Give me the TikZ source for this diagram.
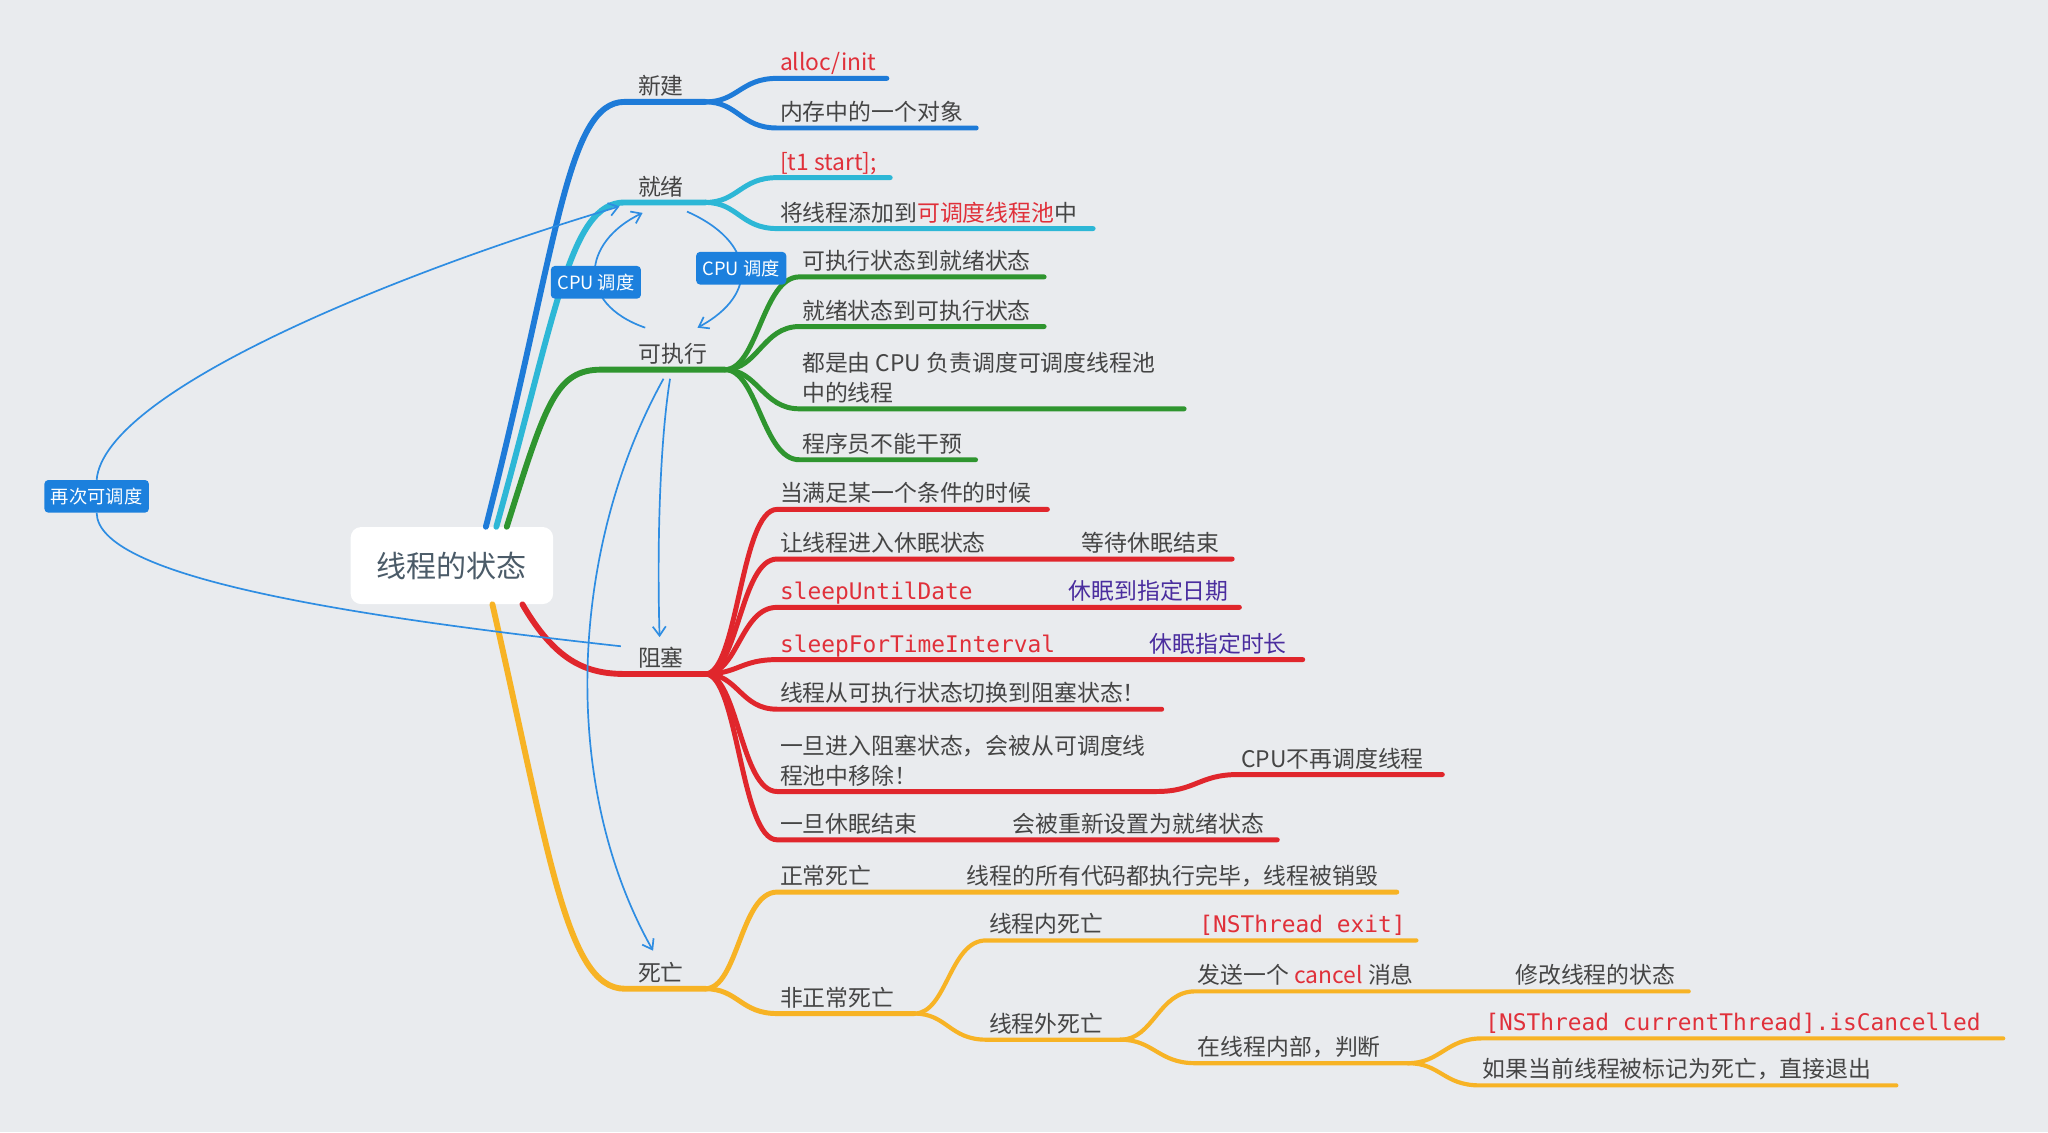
\documentclass[tikz,border=0pt]{standalone}
\usepackage{fontspec}
\setmainfont{Noto Sans CJK SC}
\newfontfamily\codefont{DejaVu Sans Mono}
\usetikzlibrary{arrows.meta,calc}

\definecolor{bgcol}{HTML}{E9EBEE}
\definecolor{txtgray}{HTML}{454545}
\definecolor{rootgray}{HTML}{4B5B68}
\definecolor{cblue}{HTML}{1E7BD8}
\definecolor{ccyan}{HTML}{2DB7D6}
\definecolor{cgreen}{HTML}{2F952F}
\definecolor{cred}{HTML}{E0262C}
\definecolor{corange}{HTML}{F7B325}
\definecolor{tagblue}{HTML}{1C80DD}
\definecolor{flowblue}{HTML}{2E8DE2}
\definecolor{codered}{HTML}{E0303A}
\definecolor{cpurple}{HTML}{4A2D9E}

\tikzset{
	rootbox/.style={fill=white, rounded corners=8pt, minimum width=155pt, minimum height=59pt, text=rootgray, font=\fontsize{23}{27}\selectfont},
	topic/.style={anchor=south, inner xsep=10pt, inner ysep=5.5pt, text depth=0pt, text=txtgray, font=\fontsize{17.5}{23}\selectfont},
	leaf/.style={anchor=south west, inner xsep=2pt, inner ysep=5.5pt, text depth=0pt, text=txtgray, font=\fontsize{17.5}{23}\selectfont},
	code/.style={leaf, text=codered, font=\fontsize{17.5}{23}\codefont},
	branch/.style={line width=4.5pt, line cap=round, draw=#1},
	twig/.style={line width=3.8pt, line cap=round, draw=#1},
	sprig/.style={line width=3.2pt, line cap=round, draw=#1},
	tag/.style={fill=tagblue, text=white, rounded corners=3pt, inner xsep=5pt, minimum height=25pt, font=\fontsize{14}{16}\selectfont},
	flow/.style={draw=flowblue, line width=1.3pt},
	tip/.style={-{Straight Barb[length=7pt,width=10pt]}}
}

\begin{document}
\begin{tikzpicture}[x=1pt, y=-1pt]
	\fill[bgcol] (0,0) rectangle (1568,866.7);
	\useasboundingbox (0,0) rectangle (1568,866.7);

	\node[rootbox] (root) at (346,433) {线程的状态};
	\node[topic] (xj) at (506,78) {新建};
	\node[topic] (jx) at (506,155) {就绪};
	\node[topic] (kz) at (515,283) {可执行};
	\node[topic] (zs) at (506,516) {阻塞};
	\node[topic] (sw) at (506,757) {死亡};
	\coordinate (jxj) at (540,78);
	\coordinate (jjx) at (540,155);
	\coordinate (jkz) at (555,283);
	\coordinate (jzs) at (540,516);
	\coordinate (jsw) at (540,757);
	\coordinate (j2) at (700,776);
	\coordinate (j3) at (858,796);
	\coordinate (j4) at (1078,814);

	\node[leaf, text=codered] (a1) at (595,60) {alloc/init};
	\node[leaf] (a2) at (595,98) {内存中的一个对象};
	\node[leaf, text=codered] (b1) at (595,136) {[t1 start];};
	\node[leaf] (b2) at (595,175) {将线程添加到\textcolor{codered}{可调度线程池}中};
	\node[leaf] (c1) at (612,212) {可执行状态到就绪状态};
	\node[leaf] (c2) at (612,250) {就绪状态到可执行状态};
	\node[leaf, align=left] (c3) at (612,313) {都是由 CPU 负责调度可调度线程池\\中的线程};
	\node[leaf] (c4) at (612,352) {程序员不能干预};
	\node[leaf] (d1) at (595,390) {当满足某一个条件的时候};
	\node[leaf] (d2) at (595,428) {让线程进入休眠状态};
	\node[leaf] (d2b) at (826,428) {等待休眠结束};
	\node[code] (d3) at (595,465) {sleepUntilDate};
	\node[leaf, text=cpurple] (d3b) at (816,465) {休眠到指定日期};
	\node[code] (d4) at (595,505) {sleepForTimeInterval};
	\node[leaf, text=cpurple] (d4b) at (878,505) {休眠指定时长};
	\node[leaf] (d5) at (595,543) {线程从可执行状态切换到阻塞状态！};
	\node[leaf, align=left] (d6) at (595,606) {一旦进入阻塞状态，会被从可调度线\\程池中移除！};
	\node[leaf] (d6b) at (948,593) {CPU不再调度线程};
	\node[leaf] (d7) at (595,643) {一旦休眠结束};
	\node[leaf] (d7b) at (773,643) {会被重新设置为就绪状态};
	\node[leaf] (e1) at (595,683) {正常死亡};
	\node[leaf] (e1b) at (738,683) {线程的所有代码都执行完毕，线程被销毁};
	\node[leaf] (e2) at (595,776) {非正常死亡};
	\node[leaf] (f1) at (755,720) {线程内死亡};
	\node[code] (f1b) at (916,720) {[NSThread exit]};
	\node[leaf] (f2) at (755,796) {线程外死亡};
	\node[leaf] (g1) at (915,759) {发送一个 \textcolor{codered}{cancel} 消息};
	\node[leaf] (g1b) at (1158,759) {修改线程的状态};
	\node[leaf] (g2) at (915,814) {在线程内部，判断};
	\node[code] (h1) at (1135,795) {[NSThread currentThread].isCancelled};
	\node[leaf] (h2) at (1133,831) {如果当前线程被标记为死亡，直接退出};
	\node[tag] (again) at (74,380) {再次可调度};

	% main branches
	\draw[branch=cblue] ([xshift=26pt]root.north) .. controls +(55,-215) and +(-45,0) .. (xj.south west) -- (jxj);
	\draw[branch=ccyan] ([xshift=34pt]root.north) .. controls +(46,-165) and +(-42,0) .. (jx.south west) -- (jjx);
	\draw[branch=cgreen] ([xshift=42pt]root.north) .. controls +(30,-95) and +(-35,0) .. ([xshift=-18pt]kz.south west) -- (jkz);
	\draw[branch=cred] ([xshift=54pt]root.south) .. controls +(25,43) and +(-30,0) .. (zs.south west) -- (jzs);
	\draw[branch=corange] ([xshift=31pt]root.south) .. controls +(43,188) and +(-45,0) .. (sw.south west) -- (jsw);

	\draw[twig=cblue] (jxj) .. controls +(25,0) and +(-28,0) .. (a1.south west) -- ([xshift=6pt]a1.south east);
	\draw[twig=cblue] (jxj) .. controls +(25,0) and +(-28,0) .. (a2.south west) -- ([xshift=8pt]a2.south east);
	\draw[twig=ccyan] (jjx) .. controls +(25,0) and +(-28,0) .. (b1.south west) -- ([xshift=8pt]b1.south east);
	\draw[twig=ccyan] (jjx) .. controls +(25,0) and +(-28,0) .. (b2.south west) -- ([xshift=10pt]b2.south east);
	\draw[twig=cgreen] (jkz) .. controls +(25,0) and +(-28,0) .. (c1.south west) -- ([xshift=8pt]c1.south east);
	\draw[twig=cgreen] (jkz) .. controls +(25,0) and +(-28,0) .. (c2.south west) -- ([xshift=8pt]c2.south east);
	\draw[twig=cgreen] (jkz) .. controls +(25,0) and +(-28,0) .. (c3.south west) -- ([xshift=20pt]c3.south east);
	\draw[twig=cgreen] (jkz) .. controls +(25,0) and +(-28,0) .. (c4.south west) -- ([xshift=8pt]c4.south east);

	\draw[twig=cred] (jzs) .. controls +(25,0) and +(-28,0) .. (d1.south west) -- ([xshift=10pt]d1.south east);
	\draw[twig=cred] (jzs) .. controls +(25,0) and +(-28,0) .. (d2.south west) -- ([xshift=8pt]d2b.south east);
	\draw[twig=cred] (jzs) .. controls +(25,0) and +(-28,0) .. (d3.south west) -- ([xshift=6pt]d3b.south east);
	\draw[twig=cred] (jzs) .. controls +(25,0) and +(-28,0) .. (d4.south west) -- ([xshift=10pt]d4b.south east);
	\draw[twig=cred] (jzs) .. controls +(25,0) and +(-28,0) .. (d5.south west) -- ([xshift=10pt]d5.south east);
	\draw[twig=cred] (jzs) .. controls +(25,0) and +(-28,0) .. (d6.south west) -- ([xshift=6pt]d6.south east) .. controls +(30,0) and +(-30,0) .. (d6b.south west) -- ([xshift=12pt]d6b.south east);
	\draw[twig=cred] (jzs) .. controls +(25,0) and +(-28,0) .. (d7.south west) -- ([xshift=8pt]d7b.south east);

	\draw[twig=corange] (jsw) .. controls +(25,0) and +(-28,0) .. (e1.south west) -- ([xshift=12pt]e1b.south east);
	\draw[twig=corange] (jsw) .. controls +(25,0) and +(-28,0) .. (e2.south west) -- (j2);
	\draw[sprig=corange] (j2) .. controls +(25,0) and +(-28,0) .. (f1.south west) -- ([xshift=6pt]f1b.south east);
	\draw[sprig=corange] (j2) .. controls +(25,0) and +(-28,0) .. (f2.south west) -- (j3);
	\draw[sprig=corange] (j3) .. controls +(25,0) and +(-28,0) .. (g1.south west) -- ([xshift=8pt]g1b.south east);
	\draw[sprig=corange] (j3) .. controls +(25,0) and +(-28,0) .. (g2.south west) -- (j4);
	\draw[sprig=corange] (j4) .. controls +(25,0) and +(-28,0) .. (h1.south west) -- ([xshift=15pt]h1.south east);
	\draw[sprig=corange] (j4) .. controls +(25,0) and +(-28,0) .. (h2.south west) -- ([xshift=17pt]h2.south east);

	% scheduling arrows
	\draw[flow] ($(zs.north west)+(-3,5)$) .. controls (250,470) and (75,440) .. (again.south);
	\draw[flow, tip] (again.north) .. controls (80,300) and (300,210) .. ($(jx.south west)+(-4,3)$);
	\draw[flow, tip] ($(kz.north)+(-21,-6)$) .. controls (440,232) and (446,185) .. node[tag, pos=0.42] (cpul) {CPU 调度} ($(jx.south)+(-14,8)$);
	\draw[flow, tip] ($(jx.south)+(20,7)$) .. controls (578,185) and (582,225) .. node[tag, pos=0.5] (cpur) {CPU 调度} ($(kz.north)+(19,-6)$);
	\draw[flow, tip] ($(kz.south)+(-2,7)$) .. controls (505,340) and (503,420) .. ($(zs.north)+(-1,-2)$);
	\draw[flow, tip] ($(kz.south)+(-7,7)$) .. controls (436,420) and (428,600) .. ($(sw.north)+(-6,-3)$);
\end{tikzpicture}
\end{document}
